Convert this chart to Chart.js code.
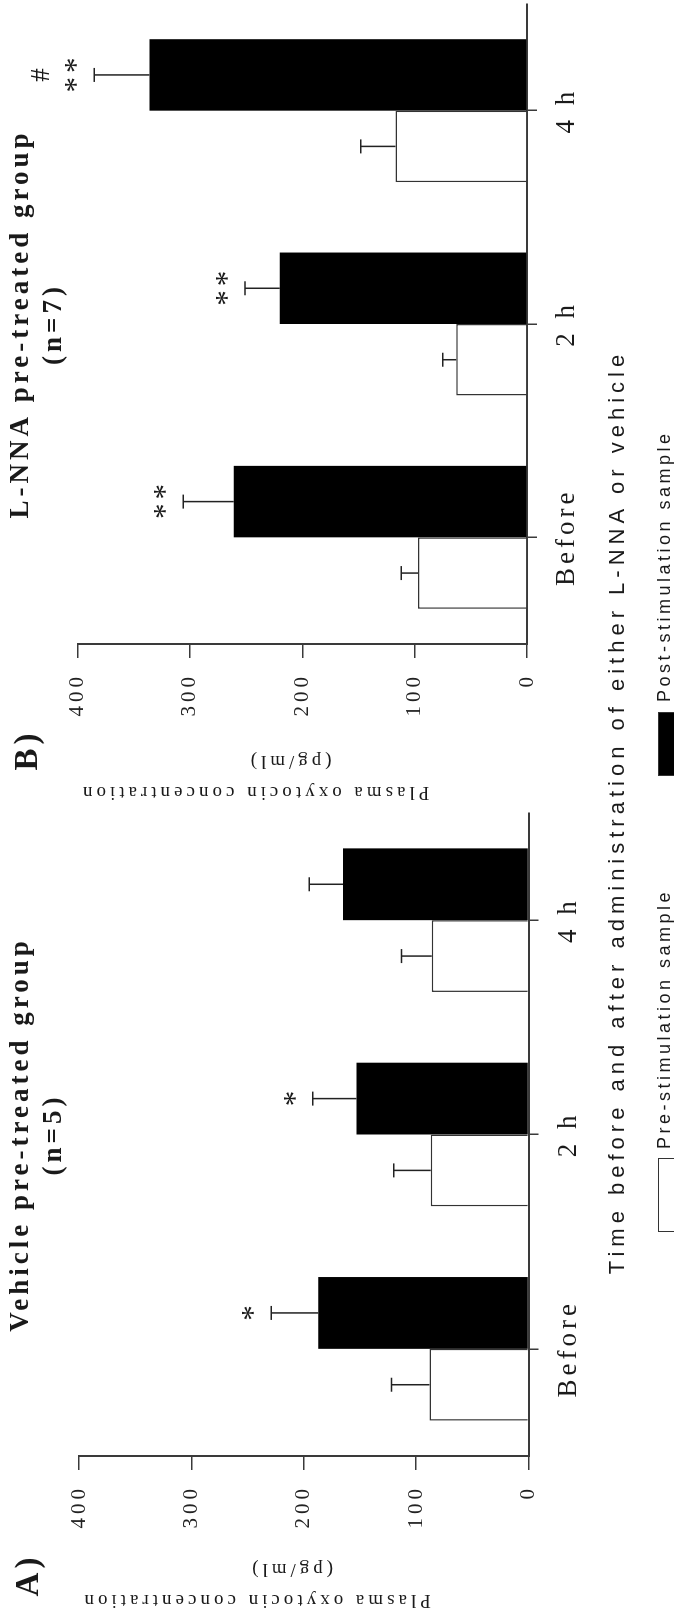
<!DOCTYPE html>
<html>
<head>
<meta charset="utf-8">
<script src="https://cdn.jsdelivr.net/npm/chart.js@4.4.1/dist/chart.umd.min.js"></script>
<style>
  html, body { margin: 0; padding: 0; background: #fff; overflow: hidden; }
  #figure {
    position: absolute; left: 0; top: 0; width: 1616px; height: 674px;
    transform-origin: 0 0; transform: translateY(1616px) rotate(-90deg);
    overflow: hidden; background: #fff;
  }
  #figure canvas { position: absolute; top: 0; }
  .txt { position: absolute; white-space: nowrap; color: #1a1a1a; }
  #xTitle { left: 804px; top: 605px; transform: translateX(-50%);
    font: 22px/24px "Liberation Sans", sans-serif; letter-spacing: 5px; }
  .key { position: absolute; top: 658px; height: 40px; border: 1.5px solid #333; box-sizing: border-box; }
  .keyText { top: 653px; font: 18px/22px "Liberation Sans", sans-serif; letter-spacing: 3.5px; }
</style>
</head>
<body>
<div id="figure">
  <canvas id="chartA" width="808" height="674" style="left:0"></canvas>
  <canvas id="chartB" width="808" height="674" style="left:808px"></canvas>
  <div id="xTitle" class="txt">Time before and after administration of either L-NNA or vehicle</div>
  <div class="key" style="left:384px;width:74px;background:#fff"></div>
  <div class="txt keyText" style="left:467px">Pre-stimulation sample</div>
  <div class="key" style="left:840px;width:64px;background:#000"></div>
  <div class="txt keyText" style="left:914px">Post-stimulation sample</div>
</div>
<script>
// Data

const categories = ["Before", "2 h", "4 h"];
const seriesNames = ["Pre-stimulation sample", "Post-stimulation sample"];

const vehiclePre = [88, 87, 86];
const vehiclePreErr = [34, 33, 27];
const vehiclePost = [187, 153, 165];
const vehiclePostErr = [42, 39, 30];
const vehicleMarks = ["*", "*", ""];
const vehicleHash = ["", "", ""];

const lnnaPre = [97, 63, 117];
const lnnaPreErr = [15, 12, 31];
const lnnaPost = [261, 220, 336];
const lnnaPostErr = [45, 31, 49];
const lnnaMarks = ["**", "**", "**"];
const lnnaHash = ["", "", "#"];

const valueMin = 0;
const valueMax = 400;
const valueStep = 100;

// Styles

const serif = "'Liberation Serif', 'Times New Roman', serif";
const ink = "#1a1a1a";
const axisColor = "#3a3a3a";

// Plugins: letter spacing, error bars with significance marks, panel letter

const spacing = {
  id: "spacing",
  beforeDraw: (chart) => {
    chart.ctx.letterSpacing = "4px";
  },
};

const errorBars = {
  id: "errorBars",
  afterDatasetsDraw: (chart) => {
    const ctx = chart.ctx;
    const yScale = chart.scales.y;
    ctx.save();
    ctx.strokeStyle = "#222";
    ctx.lineWidth = 1.5;
    chart.data.datasets.forEach((ds, i) => {
      const meta = chart.getDatasetMeta(i);
      meta.data.forEach((bar, j) => {
        const top = yScale.getPixelForValue(ds.data[j]);
        const end = yScale.getPixelForValue(ds.data[j] + ds.errors[j]);
        ctx.beginPath();
        ctx.moveTo(bar.x, top);
        ctx.lineTo(bar.x, end);
        ctx.moveTo(bar.x - 7, end);
        ctx.lineTo(bar.x + 7, end);
        ctx.stroke();
        if (ds.marks) {
          ctx.fillStyle = ink;
          ctx.textAlign = "center";
          ctx.textBaseline = "middle";
          ctx.font = `31px ${serif}`;
          if (ds.marks[j]) ctx.fillText(ds.marks[j], bar.x + 2, end - 16);
          ctx.font = `27px ${serif}`;
          if (ds.hash[j]) ctx.fillText(ds.hash[j], bar.x + 2, end - 52);
        }
      });
    });
    ctx.restore();
  },
};

const panelLetter = {
  id: "panelLetter",
  afterDraw: (chart, args, opts) => {
    const ctx = chart.ctx;
    ctx.save();
    ctx.fillStyle = ink;
    ctx.font = `bold 33px ${serif}`;
    ctx.textAlign = "center";
    ctx.textBaseline = "middle";
    ctx.fillText(opts.text, opts.x, opts.y);
    ctx.restore();
  },
};

// Chart builder

const makePanel = (canvasId, title, subtitle, pre, preErr, post, postErr, marks, hash, geo) => {
  const config = {
    type: "bar",
    data: {
      labels: categories,
      datasets: [
        {
          label: seriesNames[0],
          data: pre,
          errors: preErr,
          backgroundColor: "#fff",
          borderColor: "#333",
          borderWidth: 1.5,
          categoryPercentage: 0.67,
          barPercentage: 1,
        },
        {
          label: seriesNames[1],
          data: post,
          errors: postErr,
          marks: marks,
          hash: hash,
          backgroundColor: "#000",
          borderWidth: 0,
          categoryPercentage: 0.67,
          barPercentage: 1,
        },
      ],
    },
    options: {
      responsive: false,
      animation: false,
      devicePixelRatio: 1,
      layout: { padding: { left: 0, right: geo.right, top: 0, bottom: 0 } },
      plugins: {
        legend: { display: false },
        tooltip: { enabled: false },
        title: {
          display: true,
          text: title,
          fullSize: false,
          color: ink,
          font: { family: serif, size: 27, weight: "bold", lineHeight: 1.2 },
          padding: { top: 5, bottom: 0 },
        },
        subtitle: {
          display: true,
          text: subtitle,
          fullSize: false,
          color: ink,
          font: { family: serif, size: 27, weight: "bold", lineHeight: 1.2 },
          padding: { top: 0, bottom: geo.top - 69.8 },
        },
        panelLetter: geo.letter,
      },
      scales: {
        x: {
          offset: true,
          grid: {
            offset: false,
            drawOnChartArea: false,
            tickLength: 10,
            color: axisColor,
            lineWidth: 1.5,
          },
          border: { color: axisColor, width: 2 },
          ticks: { color: ink, padding: 14, font: { family: serif, size: 27 } },
          afterFit: (s) => {
            s.height = 674 - geo.bottom;
          },
        },
        y: {
          min: valueMin,
          max: valueMax,
          grid: {
            drawOnChartArea: false,
            tickLength: 14,
            color: axisColor,
            lineWidth: 1.5,
          },
          border: { color: axisColor, width: 2 },
          ticks: { stepSize: valueStep, color: "#222", padding: 15, font: { family: serif, size: 21 } },
          title: {
            display: true,
            text: ["           Plasma oxytocin concentration", "   (pg/ml)"],
            color: ink,
            padding: 0,
            font: { family: serif, size: 19, lineHeight: 1.65 },
          },
          afterFit: (s) => {
            s.width = geo.left;
          },
        },
      },
    },
    plugins: [spacing, errorBars, panelLetter],
  };
  return new Chart(document.getElementById(canvasId), config);
};

makePanel("chartA", "Vehicle pre-treated group", "(n=5)",
  vehiclePre, vehiclePreErr, vehiclePost, vehiclePostErr, vehicleMarks, vehicleHash,
  { left: 160, right: 5, top: 79, bottom: 528.5, letter: { text: "A)", x: 41, y: 29 } });

makePanel("chartB", "L-NNA pre-treated group", "(n=7)",
  lnnaPre, lnnaPreErr, lnnaPost, lnnaPostErr, lnnaMarks, lnnaHash,
  { left: 164, right: 4, top: 77.5, bottom: 527, letter: { text: "B)", x: 58, y: 28 } });
</script>
</body>
</html>
